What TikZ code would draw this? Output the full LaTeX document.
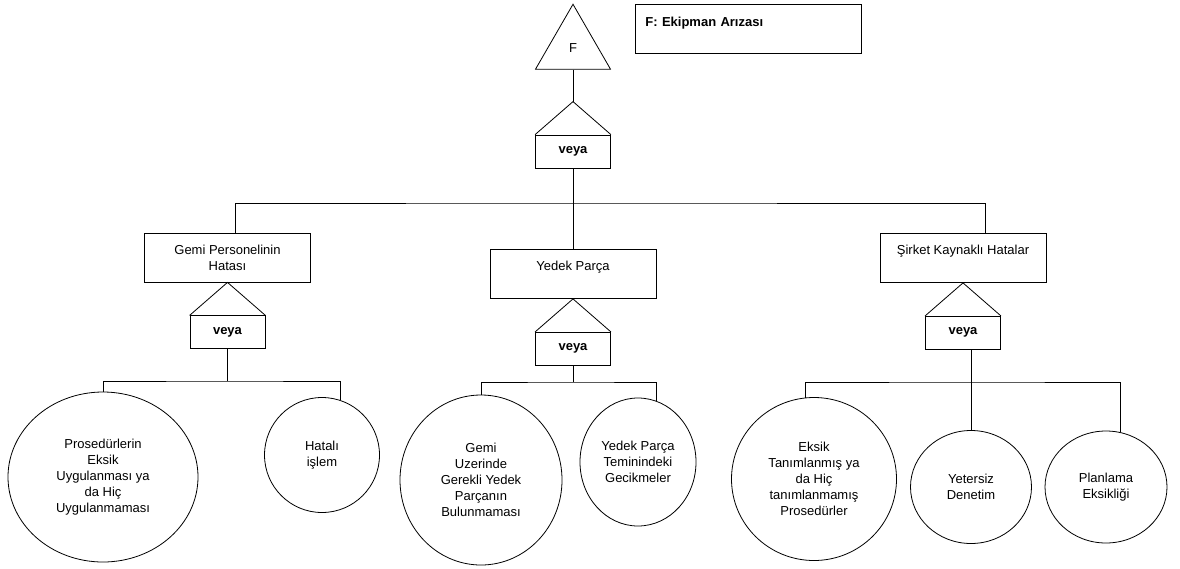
\documentclass[tikz,border=0pt]{standalone}
\usepackage{fontspec}
\setmainfont{Liberation Sans}
\usetikzlibrary{shapes.geometric,positioning}
\newcommand{\yazi}{\fontsize{13}{16}\selectfont}
\tikzset{
  olay/.style={draw, minimum width=166pt, minimum height=49pt, align=center, inner sep=0pt},
  ustyazi/.style={text height=9pt, text depth=17pt, inner ysep=11pt},
  kapi/.style={draw, minimum width=75pt, minimum height=33pt, inner sep=0pt, font=\yazi\bfseries},
  sebep/.style={draw, ellipse, inner sep=0pt, align=center},
}
\begin{document}
\begin{tikzpicture}[x=1pt,y=-1pt,line width=0.8pt,font=\yazi]
  \useasboundingbox (0,0) rectangle (1180,568);
  % Tepe olay ve aciklama
  \node[kapi] (k0) at (573,151.5) {veya};
  \node[draw,regular polygon,regular polygon sides=3,minimum size=86.6pt,inner sep=0pt,above=65pt of k0] (F) {F};
  \node[draw,anchor=north west,text width=206pt,inner xsep=10pt,inner ysep=13pt,text height=9pt,text depth=14pt] (aciklama) at (635,4) {\bfseries F: Ekipman Arızası};
  % Ara olaylar
  \node[olay] (gp) at (227.5,257.5) {Gemi Personelinin\\Hatası};
  \node[olay,ustyazi] (yp) at (573,274) {Yedek Parça};
  \node[olay,ustyazi] (sk) at (963,258) {Şirket Kaynaklı Hatalar};
  % Kapilar
  \node[kapi,below=33pt of gp] (k1) {veya};
  \node[kapi,below=33pt of yp] (k2) {veya};
  \node[kapi,below=33pt of sk] (k3) {veya};
  \foreach \k in {k0,k1,k2,k3}
    \draw (\k.north west) -- ([yshift=33pt]\k.north) -- (\k.north east);
  % Temel olaylar
  \node[sebep,minimum width=190pt,minimum height=170pt] (pe) at (103,477) {Prosedürlerin\\Eksik\\Uygulanması ya\\da Hiç\\Uygulanmaması};
  \node[sebep,minimum width=115pt,minimum height=115pt] (hi) at (322,455) {Hatalı\\işlem};
  \node[sebep,minimum width=162pt,minimum height=170pt] (ge) at (481,480) {Gemi\\Uzerinde\\Gerekli Yedek\\Parçanın\\Bulunmaması};
  \node[sebep,minimum width=116pt,minimum height=128pt] (yt) at (638,462) {Yedek Parça\\Teminindeki\\Gecikmeler};
  \node[sebep,minimum width=165pt,minimum height=163pt] (et) at (814,479) {Eksik\\Tanımlanmış ya\\da Hiç\\tanımlanmamış\\Prosedürler};
  \node[sebep,minimum width=121pt,minimum height=113pt] (yd) at (971,487) {Yetersiz\\Denetim};
  \node[sebep,minimum width=122pt,minimum height=112pt] (pl) at (1106,487) {Planlama\\Eksikliği};
  % Baglantilar
  \coordinate (y0) at (573,203);
  \coordinate (y1) at (227.5,381);
  \coordinate (y2) at (573,382);
  \coordinate (y3) at (971,382);
  \draw (F.south) -- ([yshift=33pt]k0.north);
  \draw (k0.south) -- (yp.north);
  \draw ([xshift=8pt]gp.north) |- (y0) -| ([xshift=22pt]sk.north);
  \draw (k1.south) -- (y1);
  \draw (pe.north) |- (y1) -| (hi.71);
  \draw (k2.south) -- (y2);
  \draw (ge.north) |- (y2) -| (yt.73);
  \draw (k3.south -| yd.north) -- (yd.north);
  \draw (et.96) |- (y3) -| (pl.75);
\end{tikzpicture}
\end{document}
